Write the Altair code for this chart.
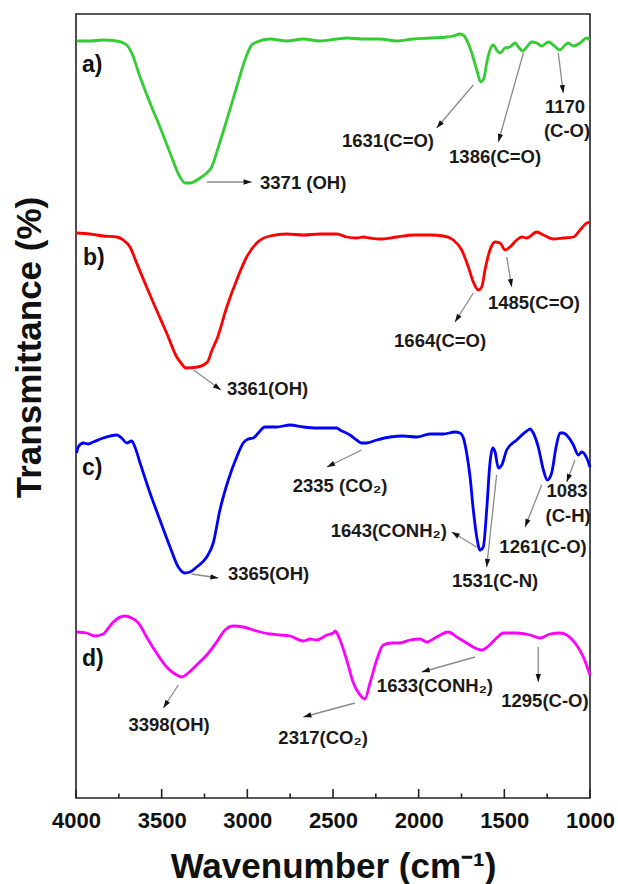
import math
import altair as alt
import pandas as pd

# ---------------- data ----------------
a_wn = [3996,3918,3841,3762,3704,3675,3626,3568,3510,3451,3393,3364,3335,3276,3237,3208,3169,3120,3062,3014,2975,2945,2868,2770,2673,2576,2478,2420,2323,2226,2128,2031,1934,1836,1798,1759,1740,1720,1690,1661,1638,1619,1603,1584,1564,1545,1525,1496,1467,1438,1418,1393,1369,1340,1311,1282,1243,1214,1175,1146,1127,1097,1058,1019,1000]
a_t = [757,757,758,757,753,745,721,695,671,645,621,615,615,620,625,631,651,678,711,738,753,756,759,757,759,757,759,760,759,759,757,759,760,761,762,764,763,758,745,728,716,720,735,748,753,748,745,750,751,755,751,747,751,756,755,752,756,753,748,753,755,752,755,760,758]

b_wn = [3996,3918,3841,3762,3724,3685,3646,3588,3530,3471,3412,3387,3359,3290,3233,3206,3175,3120,3062,3004,2945,2868,2770,2673,2576,2478,2420,2362,2323,2284,2226,2128,2031,1934,1856,1798,1749,1710,1681,1652,1632,1613,1584,1554,1525,1496,1467,1428,1399,1369,1311,1272,1214,1156,1097,1058,1019,1000]
b_t = [565,564,562,561,558,551,535,511,488,465,441,435,430,431,436,448,460,491,518,541,555,562,564,563,564,564,561,560,561,560,559,561,563,563,562,558,548,531,516,508,511,528,548,556,555,548,551,558,561,560,566,563,559,560,561,568,575,576]

c_wn = [3996,3987,3957,3928,3899,3841,3762,3733,3704,3675,3656,3626,3568,3510,3451,3403,3364,3335,3296,3237,3199,3160,3111,3062,3024,2994,2965,2936,2897,2829,2751,2673,2595,2479,2459,2401,2362,2333,2304,2245,2167,2090,2011,1934,1856,1788,1759,1739,1720,1700,1681,1661,1642,1623,1603,1584,1568,1554,1535,1515,1486,1428,1369,1350,1331,1302,1272,1249,1224,1198,1175,1156,1127,1097,1068,1048,1019,1000]
c_t = [345,351,355,354,356,360,363,360,355,357,351,335,305,278,251,231,225,226,231,241,255,288,318,341,355,359,360,365,371,371,373,371,370,370,368,363,358,355,355,358,361,362,361,364,364,366,365,360,345,321,288,261,248,251,288,335,350,346,330,333,348,358,367,369,365,351,328,318,325,351,365,365,361,353,343,346,340,331]

d_wn = [3996,3938,3889,3841,3811,3782,3714,3675,3636,3588,3530,3471,3422,3383,3345,3296,3237,3179,3130,3082,3024,2946,2868,2809,2751,2673,2634,2595,2537,2498,2488,2459,2420,2381,2342,2314,2284,2245,2207,2158,2109,2051,1992,1953,1895,1827,1778,1720,1671,1632,1593,1545,1506,1428,1350,1292,1233,1175,1136,1087,1039,1000]
d_t = [166,165,162,164,170,176,182,180,175,161,145,131,124,121,125,133,143,156,168,172,171,167,164,163,162,157,159,158,163,165,167,158,138,115,103,99,115,138,153,155,155,158,159,156,161,166,161,155,150,148,152,160,165,165,163,160,164,165,163,155,141,123]

series_names = ["a", "b", "c", "d"]
series_colors = ["#33CC33", "#FF0000", "#0000FF", "#FF00FF"]

panel_labels = ["a)", "b)", "c)", "d)"]
panel_wn = [3965, 3959, 3965, 3965]
panel_t = [733, 540, 330, 139]

major_ticks = [4000, 3500, 3000, 2500, 2000, 1500, 1000]
minor_ticks = [3750, 3250, 2750, 2250, 1750, 1250]

# annotation texts
ann_text = ["3371 (OH)", "1631(C=O)", "1386(C=O)", "1170", "(C-O)",
            "3361(OH)", "1664(C=O)", "1485(C=O)",
            "3365(OH)", "2335 (CO\u2082)", "1643(CONH\u2082)", "1531(C-N)", "1261(C-O)", "1083", "(C-H)",
            "3398(OH)", "2317(CO\u2082)", "1633(CONH\u2082)", "1295(C-O)"]
ann_wn = [2926, 2179, 1554, 1146, 1134,
          3119, 1875, 1327,
          3113, 2459, 1835, 1554, 1274, 1134, 1128,
          3457, 2558, 1905, 1263]
ann_t = [615, 657, 641, 691, 667,
         409, 457, 495,
         224, 312, 267, 217, 251, 307, 282,
         73, 60, 112, 97]
ann_align = ["left", "center", "center", "center", "center",
             "left", "center", "center",
             "left", "center", "right", "center", "center", "center", "center",
             "center", "center", "center", "center"]

# annotation arrows (start -> tip)
arr_wn1 = [3237, 1681, 1389, 1185, 3313, 1681, 1486, 3325, 2333, 1661, 1545, 1282, 1088, 3403, 2372, 1671, 1302]
arr_t1 = [616, 713, 745, 745, 428, 505, 541, 224, 348, 251, 323, 313, 338, 113, 95, 141, 151]
arr_wn2 = [2975, 1895, 1535, 1156, 3154, 1788, 1457, 3169, 2535, 1807, 1603, 1379, 1136, 3490, 2673, 1982, 1302]
arr_t2 = [616, 670, 656, 705, 408, 476, 511, 220, 331, 266, 231, 271, 316, 90, 81, 126, 116]

# ---------------- layout ----------------
W, H = 514, 784
FONT = "Liberation Sans"

rows = []
for name, wns, ts in zip(series_names, [a_wn, b_wn, c_wn, d_wn], [a_t, b_t, c_t, d_t]):
    for w, t in zip(wns, ts):
        rows.append({"series": name, "wn": w, "T": t})
spectra = pd.DataFrame(rows)

xscale = alt.Scale(domain=[1000, 4000], reverse=True, nice=False, zero=False)
yscale = alt.Scale(domain=[0, H], nice=False, zero=False)

x_axis = alt.Axis(values=major_ticks, format="d", labelFont=FONT, labelFontSize=22,
                  labelFontWeight="bold", labelColor="#111", ticks=False, domain=False,
                  grid=False, labelPadding=12, labelFlush=False, labelOverlap=False,
                  title="Wavenumber (cm\u207b\u00b9)", titleFont=FONT, titleFontSize=35,
                  titleFontWeight="bold", titleColor="#111", titleX=W / 2, titleY=79,
                  titleBaseline="alphabetic", titleAlign="center")
y_axis = alt.Axis(labels=False, ticks=False, domain=False, grid=False,
                  title="Transmittance (%)", titleFont=FONT, titleFontSize=35,
                  titleFontWeight="bold", titleColor="#111", titleAngle=270,
                  titleX=-47, titleY=333, titleBaseline="middle", titleAlign="center")

lines = alt.Chart(spectra).mark_line(strokeWidth=2.8, interpolate="monotone").encode(
    x=alt.X("wn:Q", scale=xscale, axis=x_axis),
    y=alt.Y("T:Q", scale=yscale, axis=y_axis),
    color=alt.Color("series:N", scale=alt.Scale(domain=series_names, range=series_colors), legend=None),
)

tick_df = pd.DataFrame({"wn": major_ticks + minor_ticks,
                        "y0": [0] * (len(major_ticks) + len(minor_ticks)),
                        "y1": [9] * len(major_ticks) + [4.5] * len(minor_ticks)})
ticks = alt.Chart(tick_df).mark_rule(color="#222", strokeWidth=1.6).encode(
    x=alt.X("wn:Q", scale=xscale), y=alt.Y("y0:Q", scale=yscale), y2="y1:Q")

arr = pd.DataFrame({"wn1": arr_wn1, "t1": arr_t1, "wn2": arr_wn2, "t2": arr_t2})
arr["ang"] = [
    (math.degrees(math.atan2((w1 - w2) * W / 3000.0, (t2 - t1))) + 360) % 360
    for w1, t1, w2, t2 in zip(arr_wn1, arr_t1, arr_wn2, arr_t2)
]
shafts = alt.Chart(arr).mark_rule(color="#8a8a8a", strokeWidth=1.3).encode(
    x=alt.X("wn1:Q", scale=xscale), x2="wn2:Q",
    y=alt.Y("t1:Q", scale=yscale), y2="t2:Q")
heads = alt.Chart(arr).mark_point(shape="M0,0L-0.33,1L0.33,1Z", filled=True, color="#111",
                                  size=256, opacity=1, strokeWidth=0).encode(
    x=alt.X("wn2:Q", scale=xscale), y=alt.Y("t2:Q", scale=yscale),
    angle=alt.Angle("ang:Q", scale=None))

ann = pd.DataFrame({"text": ann_text, "wn": ann_wn, "T": ann_t, "align": ann_align})
text_layers = []
for al in ["left", "center", "right"]:
    sub = ann[ann["align"] == al]
    text_layers.append(
        alt.Chart(sub).mark_text(align=al, baseline="middle", font=FONT, fontSize=18.5,
                                 fontWeight="bold", color="#1a1a1a").encode(
            x=alt.X("wn:Q", scale=xscale), y=alt.Y("T:Q", scale=yscale), text="text:N"))

pl = pd.DataFrame({"label": panel_labels, "wn": panel_wn, "T": panel_t})
panels = alt.Chart(pl).mark_text(align="left", baseline="middle", font=FONT, fontSize=23,
                                 fontWeight="bold", color="#111").encode(
    x=alt.X("wn:Q", scale=xscale), y=alt.Y("T:Q", scale=yscale), text="label:N")

chart = alt.layer(lines, ticks, shafts, heads, *text_layers, panels).properties(
    width=W, height=H,
    padding={"left": 76, "top": 14, "right": 28, "bottom": 86},
    autosize=alt.AutoSizeParams(type="none"),
    background="white",
).configure_view(stroke="#222", strokeWidth=1.6)

chart.save("out.html", embed_options={"renderer": "svg", "actions": False})
